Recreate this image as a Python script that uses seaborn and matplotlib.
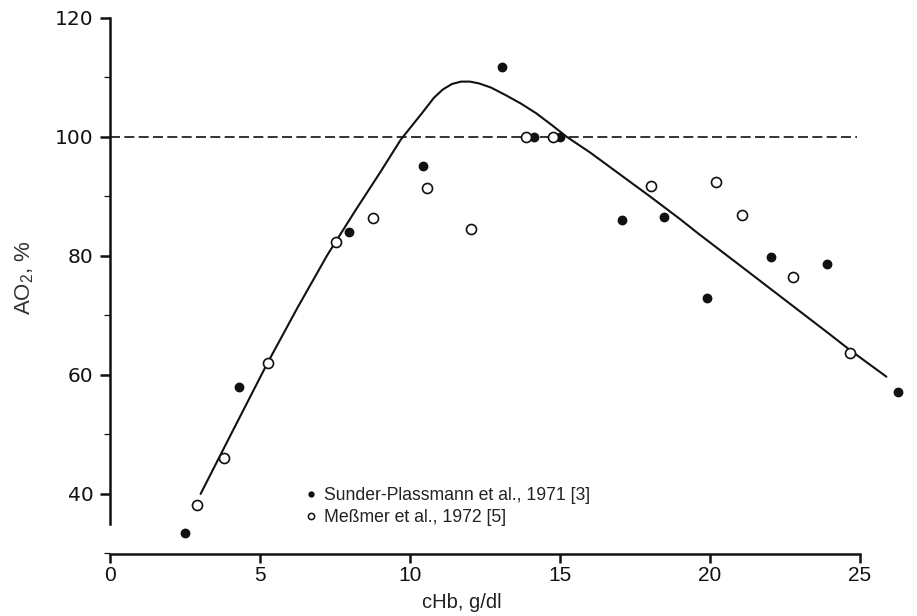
import matplotlib
matplotlib.use("Agg")
import matplotlib.pyplot as plt
import seaborn as sns
from matplotlib.lines import Line2D
from matplotlib.ticker import MultipleLocator

# ---------------- data ----------------
sunder_x = [2.49, 4.29, 7.97, 10.43, 13.08, 14.12, 15.0, 17.05, 18.46, 19.9, 22.04, 23.9, 26.28]
sunder_y = [33.4, 58.0, 84.1, 95.1, 111.8, 100.0, 100.0, 86.05, 86.6, 72.9, 79.8, 78.7, 57.2]

messmer_x = [2.91, 3.79, 5.25, 7.54, 8.77, 10.57, 12.03, 13.88, 14.78, 18.03, 20.19, 21.07, 22.76, 24.66]
messmer_y = [38.2, 46.1, 62.0, 82.4, 86.4, 91.5, 84.5, 100.0, 100.0, 91.8, 92.4, 86.8, 76.4, 63.75]

curve_x = [3.02, 4.0, 5.25, 6.25, 7.25, 8.2, 9.0, 9.7, 10.4, 10.8, 11.1, 11.4, 11.7, 12.0, 12.3,
           12.7, 13.2, 13.7, 14.2, 14.7, 15.23, 16.0, 17.0, 18.0, 19.0, 19.6, 21.0, 22.5, 24.0, 24.66, 25.88]
curve_y = [40.0, 49.7, 62.0, 71.3, 80.2, 87.8, 94.0, 99.6, 104.0, 106.6, 108.0, 108.9, 109.3, 109.3, 109.0,
           108.3, 107.0, 105.6, 104.0, 102.1, 100.0, 97.4, 93.7, 90.0, 86.2, 83.8, 78.4, 72.6, 66.8, 64.2, 59.7]

ref_x = [0, 24.9]
ref_y = [100, 100]

x_ticks = [0, 5, 10, 15, 20, 25]
y_ticks = [40, 60, 80, 100, 120]

legend_labels = ["Sunder-Plassmann et al., 1971 [3]", "Meßmer et al., 1972 [5]"]
x_label = "cHb, g/dl"
y_label = "AO$_2$, %"

# ---------------- style ----------------
sns.set_style("ticks")
plt.rcParams["font.family"] = ["Liberation Sans", "DejaVu Sans"]
plt.rcParams["mathtext.fontset"] = "custom"
plt.rcParams["mathtext.rm"] = "Liberation Sans"
plt.rcParams["mathtext.default"] = "regular"

ink = "#111111"

fig = plt.figure(figsize=(9.17, 6.16), dpi=100)
ax = fig.add_axes([110 / 917, 62 / 616, 804 / 917, 542 / 616])

# reference line
sns.lineplot(x=ref_x, y=ref_y, ax=ax, color=ink, linewidth=1.2,
             dashes=False, zorder=1).lines[-1].set_dashes((6, 2.6))

# fitted curve
sns.lineplot(x=curve_x, y=curve_y, ax=ax, color=ink, linewidth=1.5, sort=False, zorder=2)

# points
sns.scatterplot(x=sunder_x, y=sunder_y, ax=ax, color=ink, s=50, linewidth=0, zorder=4)
sns.scatterplot(x=messmer_x, y=messmer_y, ax=ax, color="white", edgecolor=ink,
                s=52, linewidth=1.2, zorder=4)

ax.set_xlim(0, 26.8)
ax.set_ylim(29.9, 121.0)

sns.despine(ax=ax)
ax.spines["left"].set_bounds(35, 120)
ax.spines["bottom"].set_bounds(0, 25)
for sp in ("left", "bottom"):
    ax.spines[sp].set_linewidth(1.8)
    ax.spines[sp].set_color(ink)

ax.set_xticks(x_ticks)
ax.set_yticks(y_ticks)
ax.yaxis.set_minor_locator(MultipleLocator(10))
ax.tick_params(axis="y", which="major", direction="out", length=7, width=1.8,
               pad=5, colors=ink, labelsize=14.5)
ax.tick_params(axis="y", which="minor", direction="out", length=4.5, width=0.9, colors=ink)
ax.tick_params(axis="x", which="major", direction="out", length=6.5, width=1.8,
               pad=2, colors=ink, labelsize=14)
for lab in ax.get_yticklabels():
    lab.set_fontfamily(["DejaVu Sans"])
for lab in ax.get_xticklabels():
    lab.set_fontfamily(["Liberation Sans Narrow", "Liberation Sans", "DejaVu Sans"])
    lab.set_fontsize(15)

ax.set_xlabel(x_label, fontsize=14.5, color="#222222")
ax.xaxis.set_label_coords(0.438, -0.072)
ax.set_ylabel(y_label, fontsize=16, color="#333333")
ax.yaxis.set_label_coords(-0.092, 0.511)

handles = [
    Line2D([], [], marker="o", ls="none", color=ink, markersize=4.5, markeredgewidth=0),
    Line2D([], [], marker="o", ls="none", markerfacecolor="white", markeredgecolor=ink,
           markersize=4.5, markeredgewidth=1.1),
]
leg = ax.legend(handles, legend_labels, loc="upper left",
                bbox_to_anchor=(305.7 / 917, 1 - 487 / 616), bbox_transform=fig.transFigure,
                frameon=False, fontsize=12.7, handlelength=0.6, handletextpad=0.42,
                borderpad=0, borderaxespad=0, labelspacing=0.27)
for t in leg.get_texts():
    t.set_color("#222222")

fig.savefig("out.png", dpi=100)
